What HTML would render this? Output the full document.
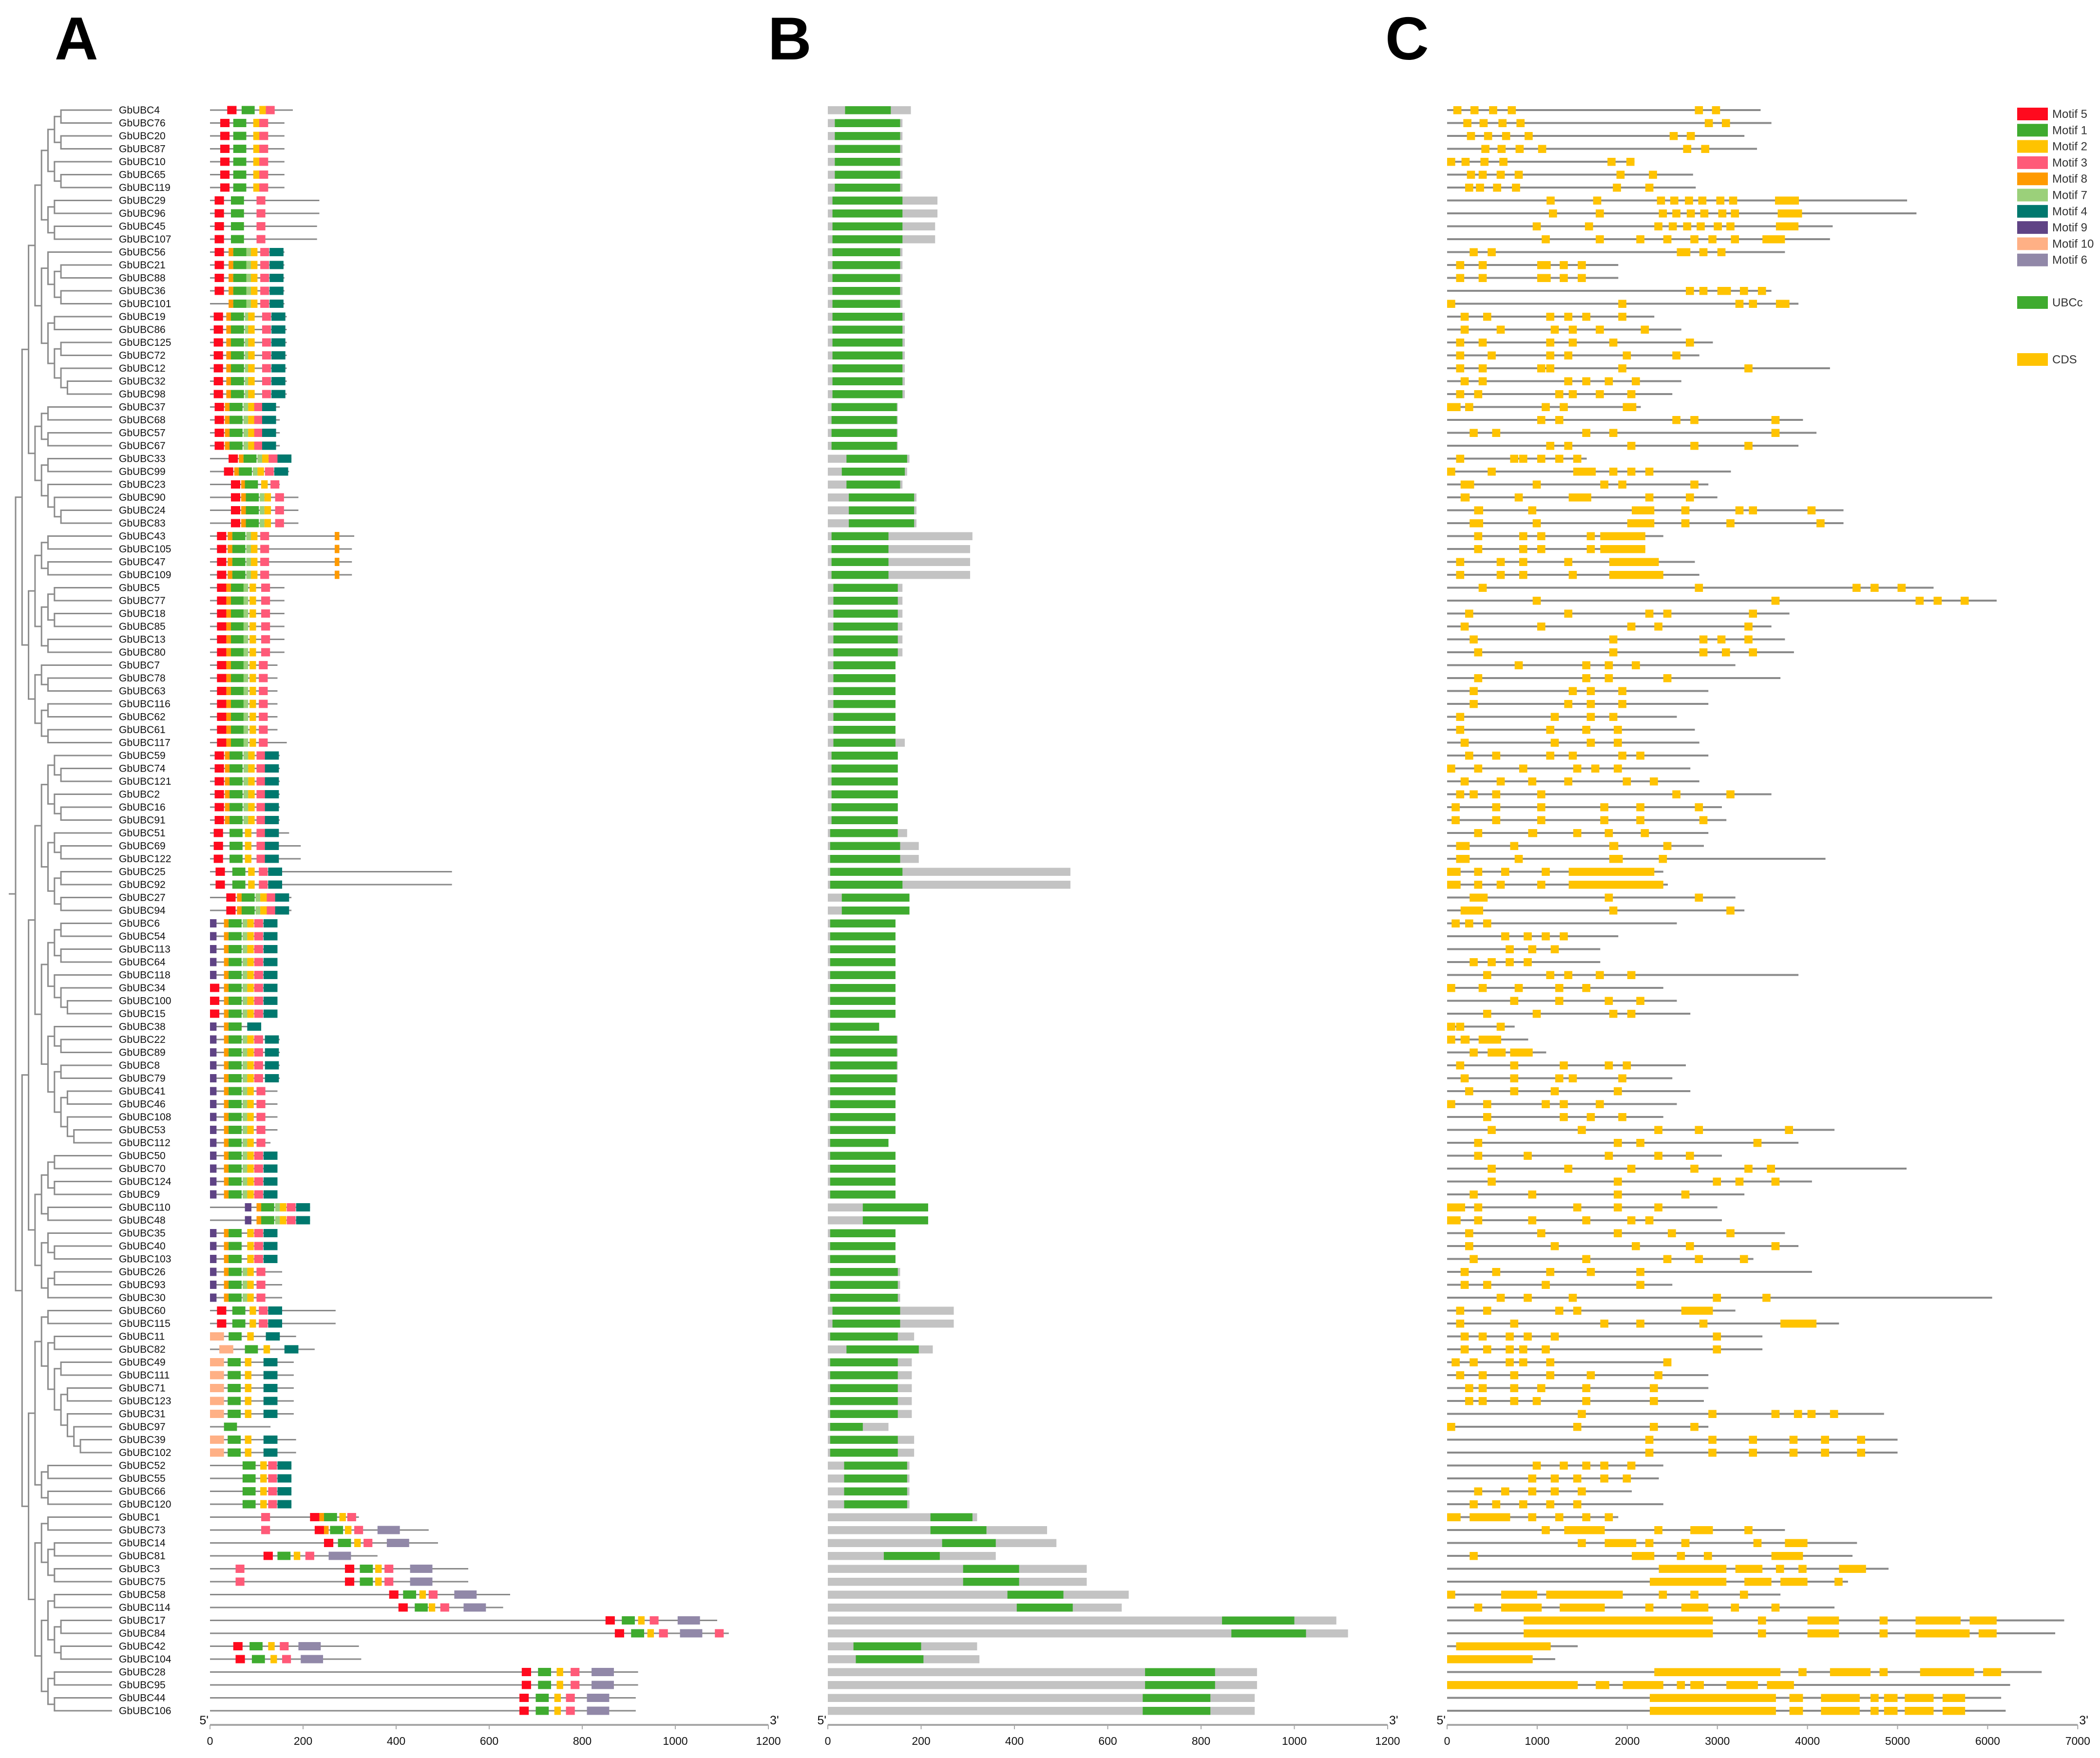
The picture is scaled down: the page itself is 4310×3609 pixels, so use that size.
<!DOCTYPE html>
<html><head><meta charset="utf-8"><style>
html,body{margin:0;padding:0;background:#fff;}
svg{display:block;}
text{font-family:"Liberation Sans",sans-serif;}
</style></head><body>
<svg id="fig" xmlns="http://www.w3.org/2000/svg" width="4310" height="3609" viewBox="0 0 4310 3609">
<rect x="0" y="0" width="4310" height="3609" fill="#fff"/>
<text x="112" y="122" font-size="124" font-weight="bold">A</text>
<text x="1576" y="122" font-size="124" font-weight="bold">B</text>
<text x="2843" y="122" font-size="124" font-weight="bold">C</text>
<g id="tree"></g>
<g id="labels"></g>
<g id="panelA"></g>
<g id="panelB"></g>
<g id="panelC"></g>
<g id="axes"></g>
<g id="legend"></g>
</svg>
<script>
// ---- data ----
const c1="((((4,76),(20,87)),(10,(65,119))),((29,96),(45,107)))";
const c2="((56,((21,88),(36,101))),((19,86),((125,72),(12,(32,98)))))";
const c3="(((37,68),(57,67)),((33,99),(23,(90,(24,83)))))";
const c4="((((43,105),(47,109)),(((5,77),(18,85)),(13,80))),((7,(78,63)),((116,62),(61,117))))";
const c5="(((59,(74,121)),(2,(16,91))),((51,(69,122)),((25,92),(27,94))))";
const c6="((((6,54),(113,64)),(118,(34,(100,15)))),((38,(22,89)),((8,79),((41,46),(108,(53,112))))))";
const c7="((((50,70),(124,9)),(110,48)),((35,(40,103)),((26,93),30)))";
const c8a="((60,115),((11,82),((49,111),((71,123),(31,(97,(39,102)))))))";
const c8b="((52,55),(66,120))";
const c9="(((1,73),((14,81),(3,75))),(((58,114),((17,84),(42,104))),((28,95),(44,106))))";
const treeNewick="(((("+c1+","+c2+"),"+c3+"),"+c4+"),((("+c5+","+c6+"),"+c7+"),(("+c8a+","+c8b+"),"+c9+")))";

// Panel A: protein length | motif:start
const motifData={
4:"178|5:37,1:68,2:106,3:120",76:"160|5:22,1:50,2:93,3:106",20:"160|5:22,1:50,2:93,3:106",87:"160|5:22,1:50,2:93,3:106",
10:"160|5:22,1:50,2:93,3:106",65:"160|5:22,1:50,2:93,3:106",119:"160|5:22,1:50,2:93,3:106",
29:"235|5:10,1:45,3:100",96:"235|5:10,1:45,3:100",45:"230|5:10,1:45,3:100",107:"230|5:10,1:45,3:100",
56:"160|5:10,8:40,1:50,7:78,2:88,3:108,4:128",21:"160|5:10,8:40,1:50,7:78,2:88,3:108,4:128",88:"160|5:10,8:40,1:50,7:78,2:88,3:108,4:128",
36:"160|5:10,8:40,1:50,7:78,2:88,3:108,4:128",101:"160|8:40,1:50,7:78,2:88,3:108,4:128",
19:"165|5:8,8:35,1:45,7:75,2:82,3:112,4:132",86:"165|5:8,8:35,1:45,7:75,2:82,3:112,4:132",125:"165|5:8,8:35,1:45,7:75,2:82,3:112,4:132",
72:"165|5:8,8:35,1:45,7:75,2:82,3:112,4:132",12:"165|5:8,8:35,1:45,7:75,2:82,3:112,4:132",32:"165|5:8,8:35,1:45,7:75,2:82,3:112,4:132",98:"165|5:8,8:35,1:45,7:75,2:82,3:112,4:132",
37:"150|5:10,8:32,1:42,7:72,2:82,3:95,4:112",68:"150|5:10,8:32,1:42,7:72,2:82,3:95,4:112",57:"150|5:10,8:32,1:42,7:72,2:82,3:95,4:112",67:"150|5:10,8:32,1:42,7:72,2:82,3:95,4:112",
33:"175|5:40,8:62,1:72,7:102,2:112,3:126,4:145",99:"170|5:30,8:52,1:62,7:92,2:102,3:118,4:138",
23:"150|5:45,8:67,1:75,2:110,3:130",90:"190|5:45,8:67,1:77,7:107,2:117,3:140",24:"190|5:45,8:67,1:77,7:107,2:117,3:140",83:"190|5:45,8:67,1:77,7:107,2:117,3:140",
43:"310|5:15,8:38,1:48,7:78,2:88,3:108,8:268",105:"305|5:15,8:38,1:48,7:78,2:88,3:108,8:268",47:"305|5:15,8:38,1:48,7:78,2:88,3:108,8:268",109:"305|5:15,8:38,1:48,7:78,2:88,3:108,8:268",
5:"160|5:15,8:35,1:45,7:72,2:85,3:110",77:"160|5:15,8:35,1:45,7:72,2:85,3:110",18:"160|5:15,8:35,1:45,7:72,2:85,3:110",
85:"160|5:15,8:35,1:45,7:72,2:85,3:110",13:"160|5:15,8:35,1:45,7:72,2:85,3:110",80:"160|5:15,8:35,1:45,7:72,2:85,3:110",
7:"145|5:15,8:35,1:45,7:72,2:85,3:105",78:"145|5:15,8:35,1:45,7:72,2:85,3:105",63:"145|5:15,8:35,1:45,7:72,2:85,3:105",
116:"145|5:15,8:35,1:45,7:72,2:85,3:105",62:"145|5:15,8:35,1:45,7:72,2:85,3:105",61:"145|5:15,8:35,1:45,7:72,2:85,3:105",117:"165|5:15,8:35,1:45,7:72,2:85,3:105",
59:"150|5:10,8:32,1:42,7:72,2:82,3:100,4:118",74:"150|5:10,8:32,1:42,7:72,2:82,3:100,4:118",121:"150|5:10,8:32,1:42,7:72,2:82,3:100,4:118",
2:"150|5:10,8:32,1:42,7:72,2:82,3:100,4:118",16:"150|5:10,8:32,1:42,7:72,2:82,3:100,4:118",91:"150|5:10,8:32,1:42,7:72,2:82,3:100,4:118",
51:"170|5:8,1:42,2:75,3:100,4:118",69:"195|5:8,1:42,2:75,3:100,4:118",122:"195|5:8,1:42,2:75,3:100,4:118",
25:"520|5:12,1:48,2:82,3:105,4:125",92:"520|5:12,1:48,2:82,3:105,4:125",
27:"175|5:35,8:58,1:68,7:98,2:108,3:122,4:140",94:"175|5:35,8:58,1:68,7:98,2:108,3:122,4:140",
6:"145|9:0,8:30,1:40,7:70,2:80,3:95,4:115",54:"145|9:0,8:30,1:40,7:70,2:80,3:95,4:115",113:"145|9:0,8:30,1:40,7:70,2:80,3:95,4:115",
64:"145|9:0,8:30,1:40,7:70,2:80,3:95,4:115",118:"145|9:0,8:30,1:40,7:70,2:80,3:95,4:115",
34:"145|5:0,8:30,1:40,7:70,2:80,3:95,4:115",100:"145|5:0,8:30,1:40,7:70,2:80,3:95,4:115",15:"145|5:0,8:30,1:40,7:70,2:80,3:95,4:115",
38:"110|9:0,8:30,1:40,4:80",
22:"150|9:0,8:30,1:40,7:70,2:80,3:95,4:118",89:"150|9:0,8:30,1:40,7:70,2:80,3:95,4:118",8:"150|9:0,8:30,1:40,7:70,2:80,3:95,4:118",79:"150|9:0,8:30,1:40,7:70,2:80,3:95,4:118",
41:"145|9:0,8:30,1:40,7:70,2:80,3:100",46:"145|9:0,8:30,1:40,7:70,2:80,3:100",108:"145|9:0,8:30,1:40,7:70,2:80,3:100",53:"145|9:0,8:30,1:40,7:70,2:80,3:100",
112:"130|9:0,8:30,1:40,7:70,2:80,3:100",
50:"145|9:0,8:30,1:40,7:70,2:80,3:95,4:115",70:"145|9:0,8:30,1:40,7:70,2:80,3:95,4:115",124:"145|9:0,8:30,1:40,7:70,2:80,3:95,4:115",9:"145|9:0,8:30,1:40,7:70,2:80,3:95,4:115",
110:"215|9:75,8:100,1:110,7:140,2:150,3:165,4:185",48:"215|9:75,8:100,1:110,7:140,2:150,3:165,4:185",
35:"145|9:0,8:30,1:40,2:80,3:95,4:115",40:"145|9:0,8:30,1:40,2:80,3:95,4:115",103:"145|9:0,8:30,1:40,2:80,3:95,4:115",
26:"155|9:0,8:30,1:40,7:70,2:80,3:100",93:"155|9:0,8:30,1:40,7:70,2:80,3:100",30:"155|9:0,8:30,1:40,7:70,2:80,3:100",
60:"270|5:15,1:48,2:85,3:105,4:125",115:"270|5:15,1:48,2:85,3:105,4:125",
11:"185|10:0,1:40,2:80,4:120",82:"225|10:20,1:75,2:115,4:160",
49:"180|10:0,1:38,2:75,4:115",111:"180|10:0,1:38,2:75,4:115",71:"180|10:0,1:38,2:75,4:115",123:"180|10:0,1:38,2:75,4:115",31:"180|10:0,1:38,2:75,4:115",
97:"130|1:30",39:"185|10:0,1:38,2:75,4:115",102:"185|10:0,1:38,2:75,4:115",
52:"175|1:70,2:108,3:125,4:145",55:"175|1:70,2:108,3:125,4:145",66:"175|1:70,2:108,3:125,4:145",120:"175|1:70,2:108,3:125,4:145",
1:"320|3:110,5:215,8:235,1:245,2:278,3:295",73:"470|3:110,5:225,8:245,1:258,2:290,3:310,6:360",
14:"490|5:245,1:275,2:310,3:330,6:380",81:"360|5:115,1:145,2:180,3:205,6:255",
3:"555|3:55,5:290,1:322,2:355,3:375,6:430",75:"555|3:55,5:290,1:322,2:355,3:375,6:430",
58:"645|5:385,1:415,2:450,3:470,6:525",114:"630|5:405,1:440,2:470,3:495,6:545",
17:"1090|5:850,1:885,2:920,3:945,6:1005",84:"1115|5:870,1:905,2:940,3:965,6:1010,3:1085",
42:"320|5:50,1:85,2:125,3:150,6:190",104:"325|5:55,1:90,2:130,3:155,6:195",
28:"920|5:670,1:705,2:745,3:775,6:820",95:"920|5:670,1:705,2:745,3:775,6:820",
44:"915|5:665,1:700,2:740,3:765,6:810",106:"915|5:665,1:700,2:740,3:765,6:810"
};
// Panel B: protein length | UBCc start-end
const domainData={
4:"178|37-135",76:"160|15-155",20:"160|15-155",87:"160|15-155",10:"160|15-155",65:"160|15-155",119:"160|15-155",
29:"235|10-160",96:"235|10-160",45:"230|10-160",107:"230|10-160",
56:"160|10-155",21:"160|10-155",88:"160|10-155",36:"160|10-155",101:"160|10-155",
19:"165|10-160",86:"165|10-160",125:"165|10-160",72:"165|10-160",12:"165|10-160",32:"165|10-160",98:"165|10-160",
37:"150|8-148",68:"150|8-148",57:"150|8-148",67:"150|8-148",33:"175|40-170",99:"170|30-165",
23:"160|40-155",90:"190|45-185",24:"190|45-185",83:"190|45-185",
43:"310|8-130",105:"305|8-130",47:"305|8-130",109:"305|8-130",
5:"160|12-150",77:"160|12-150",18:"160|12-150",85:"160|12-150",13:"160|12-150",80:"160|12-150",
7:"145|12-145",78:"145|12-145",63:"145|12-145",116:"145|12-145",62:"145|12-145",61:"145|12-145",117:"165|12-145",
59:"150|8-150",74:"150|8-150",121:"150|8-150",2:"150|8-150",16:"150|8-150",91:"150|8-150",
51:"170|5-150",69:"195|5-155",122:"195|5-155",25:"520|5-160",92:"520|5-160",27:"175|30-175",94:"175|30-175",
6:"145|5-145",54:"145|5-145",113:"145|5-145",64:"145|5-145",118:"145|5-145",34:"145|5-145",100:"145|5-145",15:"145|5-145",
38:"110|5-110",22:"150|5-148",89:"150|5-148",8:"150|5-148",79:"150|5-148",41:"145|5-145",46:"145|5-145",108:"145|5-145",53:"145|5-145",
112:"130|5-130",50:"145|5-145",70:"145|5-145",124:"145|5-145",9:"145|5-145",110:"215|75-215",48:"215|75-215",
35:"145|5-145",40:"145|5-145",103:"145|5-145",26:"155|5-150",93:"155|5-150",30:"155|5-150",
60:"270|10-155",115:"270|10-155",11:"185|5-150",82:"225|40-195",
49:"180|5-150",111:"180|5-150",71:"180|5-150",123:"180|5-150",31:"180|5-150",97:"130|5-75",39:"185|5-150",102:"185|5-150",
52:"175|35-170",55:"175|35-170",66:"175|35-170",120:"175|35-170",
1:"320|220-310",73:"470|220-340",14:"490|245-360",81:"360|120-240",3:"555|290-410",75:"555|290-410",
58:"645|385-505",114:"630|405-525",17:"1090|845-1000",84:"1115|865-1025",42:"320|55-200",104:"325|60-205",
28:"920|680-830",95:"920|680-830",44:"915|675-820",106:"915|675-820"
};
// Panel C: gene length | exons (start or start-end, bp)
const exonData={
4:"3480|69,259,466,673,2750,2940",76:"3600|180,360,570,770,2860,3050",20:"3300|220,410,610,860,2470,2660",87:"3440|380,560,760,1010,2620,2820",
10:"2080|0,160,370,580,1780,1990",65:"2730|220,350,550,750,1880,2240",119:"2760|200,320,510,720,1840,2200",
29:"5106|1104,1621,2329,2477,2640,2788,2988,3130,3640-3905",96:"5210|1130,1650,2350,2500,2660,2810,3010,3150,3670-3940",
45:"4280|950,1530,2300,2460,2620,2770,2960,3100,3650-3900",107:"4250|1050,1650,2100,2400,2700,2900,3150,3500-3750",
56:"3750|250,450,2550-2700,2800,3000",21:"1900|100,350,1000-1150,1250,1450",88:"1900|100,350,1000-1150,1250,1450",
36:"3600|2650,2800,3000-3150,3250,3450",101:"3900|0,1900,3200,3350,3650-3800",
19:"2300|150,400,1100,1300,1500,1900",86:"2600|150,550,1150,1350,1650,2150",125:"2950|100,350,1100,1350,1800,2650",
72:"2800|100,450,1100,1300,1950,2500",12:"4250|100,350,1000,1100,1900,3300",32:"2600|150,350,1300,1500,1750,2050",98:"2500|100,300,1200,1350,1650,2000",
37:"2150|0-150,200,1050,1250,1950-2100",68:"3950|1000,1200,2500,2700,3600",57:"4100|250,500,1500,1800,3600",67:"3900|1100,1300,2000,2700,3300",
33:"1550|100,700,800,1000,1200,1400",99:"3150|0,450,1400-1650,1800,2000,2200",23:"2900|150-300,950,1700,1900,2700",
90:"3000|150-250,750,1350-1600,2200,2650",24:"4400|300-400,900,2050-2300,2600,3200,3350,4000",83:"4400|250-400,950,2000-2300,2600,3100,4100",
43:"2400|300,800,1000,1550,1700-2200",105:"2200|300,800,1000,1550,1700-2200",47:"2750|100,550,800,1300,1800-2350",109:"2800|100,550,800,1350,1800-2400",
5:"5400|350,2750,4500,4700,5000",77:"6100|950,3600,5200,5400,5700",18:"3800|200,1300,2200,2400,3350",85:"3600|150,1000,2000,2300,3300",
13:"3750|250,1800,2800,3000,3300",80:"3850|300,1800,2800,3050,3350",
7:"3200|750,1500,1750,2050",78:"3700|300,1500,1750,2400",63:"2900|250,1350,1550,1900",116:"2900|250,1300,1550,1900",
62:"2550|100,1150,1550,1800",61:"2750|100,1100,1500,1850",117:"2800|150,1150,1550,1850",
59:"2900|200,500,1100,1350,1900,2100",74:"2700|0,300,800,1400,1600,1850",121:"2800|150,550,900,1300,1950,2250",
2:"3600|100,250,500,1000,2500,3100",16:"3050|50,500,1000,1700,2100,2750",91:"3100|50,500,1000,1700,2100,2800",
51:"2900|300,900-1000,1400,1750,2150",69:"2850|100-250,700,1800-1900,2400",122:"4200|100-250,750,1800-1950,2350",
25:"2400|0-150,300,600,1050,1350-2300",92:"2450|0-150,300,550,1000,1350-2400",
27:"3200|250-450,1750,2750",94:"3300|150-400,1800,3100",
6:"2550|50,200,400",54:"1900|600,850,1050,1250",113:"1700|650,900,1150",64:"1700|250,450,650,850",
118:"3900|400,1100,1300,1650,2000",34:"2400|0,350,750,1200,1500",100:"2550|700,1200,1750,2100",15:"2700|400,950,1800,2000",
38:"750|0,100,550",22:"900|0,150-250,350-600",89:"1100|250,450-650,700-950",8:"2650|100,700,1250,1750,1950",
79:"2500|150,700,1200,1350,1900",41:"2700|200,700,1150,1850",46:"2550|0,400,1050,1250,1650",108:"2400|400,1250,1550,1900",
53:"4300|450,1450,2300,2750,3750",112:"3900|300,1850,2100,3400",50:"3050|300,850,1750,2300,2650",
70:"5100|450,1300,2000,2700,3300,3550",124:"4050|450,1850,2950,3200,3600",9:"3300|250,900,1850,2600",
110:"3000|0-200,300,1400,1850,2300",48:"3050|0-150,300,900,1500,2000,2200",
35:"3750|200,1000,1850,2450,3100",40:"3900|200,1150,2050,2650,3600",103:"3400|250,1500,2400,2750,3250",
26:"4050|150,500,1100,1550,2100",93:"2500|150,400,1050,2100",30:"6050|550,850,1350,2950,3500",
60:"3200|100,400,1200,1400,2600-2950",115:"4350|100,700,1700,2100,2800,3700-4100",
11:"3500|150,350,650,850,1150,2950",82:"3500|150,400,650,800,1050,2950",49:"2450|50,250,650,800,1100,2400",
111:"2900|100,350,700,1100,1550,2300",71:"2900|200,350,700,1000,1500,2250",123:"2850|200,350,700,950,1500,2250",
31:"4850|1450,2900,3600,3850,4000,4250",97:"2900|0,1400,2250,2700",
39:"5000|2200,2900,3350,3800,4150,4550",102:"5000|2200,2900,3350,3800,4150,4550",
52:"2400|950,1250,1500,1700,2000",55:"2350|900,1150,1400,1700,1950",66:"2050|300,600,900,1150,1450",120:"2400|250,500,800,1100,1400",
1:"1900|0-150,250-700,900,1200,1500,1750",73:"3750|1050,1300-1750,2300,2700-2950,3300",
14:"4550|1450,1750-2100,2200,2600,3400,3750-4000",81:"4500|250,2050-2300,2550,2850,3600-3950",
3:"4900|2350-3100,3200-3500,3650,3900,4350-4650",75:"4450|2250-3100,3300-3600,3700-4000,4300",
58:"3700|0,600-1000,1100-1950,2350,2700,3250",114:"4300|300,600-1050,1250-1750,2200,2600-2900,3150,3600",
17:"6850|850-2950,3450,4000-4350,4800,5200-5700,5800-6100",84:"6750|850-2950,3450,4000-4350,4800,5200-5800,5900-6100",
42:"1450|100-1150",104:"1200|0-950",28:"6600|2300-3700,3900,4250-4700,4800,5250-5850,5950-6150",
95:"6250|0-1450,1650-1800,1950-2400,2550,2700-2850,3100-3450,3550-3850",
44:"6150|2250-3650,3800-3950,4150-4580,4700,4850-5000,5080-5400,5500-5750",
106:"6200|2250-3650,3800-3950,4150-4580,4700,4850-5000,5080-5400,5500-5750"
};
const motifNames=["Motif 5","Motif 1","Motif 2","Motif 3","Motif 8","Motif 7","Motif 4","Motif 9","Motif 10","Motif 6"];
const motifIds=[5,1,2,3,8,7,4,9,10,6];
const axisTicksProt=[0,200,400,600,800,1000,1200];
const axisTicksGene=[0,1000,2000,3000,4000,5000,6000,7000];

// ---- styles / scales ----
const COL={5:"#ff0a1e",1:"#3fab2f",2:"#ffc300",3:"#ff5a78",8:"#ff9a00",7:"#9bd07a",4:"#00786e",9:"#5f4385",10:"#ffb085",6:"#9188a8"};
const MW={5:20,1:28,2:14,3:19,8:10,7:10,4:30,9:14,10:30,6:48};
const NS="http://www.w3.org/2000/svg";
const xA=u=>431+u*0.955, xB=u=>1699+u*0.9575, xC=b=>2970+b*0.1849;
const rowY=i=>226+i*26.5;
function mk(tag,attrs,parent){const e=document.createElementNS(NS,tag);for(const k in attrs)e.setAttribute(k,attrs[k]);parent.appendChild(e);return e;}

// ---- tree ----
let pos=0;const s=treeNewick;
function parse(depth){
  if(s[pos]==="("){pos++;const node={ch:[],d:depth};
    while(true){node.ch.push(parse(depth+1));if(s[pos]===","){pos++;continue;}if(s[pos]===")"){pos++;break;}break;}
    return node;}
  let n="";while(pos<s.length&&/[0-9]/.test(s[pos]))n+=s[pos++];return {name:n,d:depth};
}
const root=parse(0);
const leaves=[];
function collect(n){if(n.ch)n.ch.forEach(collect);else{n.i=leaves.length;leaves.push(n);}}
collect(root);
const treeG=document.getElementById("tree");
const TX=d=>32+d*13.3, TIP=230;
function layout(n){if(!n.ch){n.y=rowY(n.i);n.x=TIP;return;}n.ch.forEach(layout);n.x=TX(n.d);n.y=(n.ch[0].y+n.ch[n.ch.length-1].y)/2;}
layout(root);
function drawTree(n){
  if(!n.ch)return;
  const v=mk("line",{x1:n.x,y1:n.ch[0].y,x2:n.x,y2:n.ch[n.ch.length-1].y,stroke:"#8c8c8c","stroke-width":3},treeG);
  
  
  n.ch.forEach(c=>{
    const h=mk("line",{x1:n.x-1.5,y1:c.y,x2:c.ch?c.x:TIP,y2:c.y,stroke:"#8c8c8c","stroke-width":3},treeG);
    
    
    drawTree(c);});
}
drawTree(root);
const stub=mk("line",{x1:18,y1:root.y,x2:root.x,y2:root.y,stroke:"#8c8c8c","stroke-width":3},treeG);



// ---- rows ----
const labG=document.getElementById("labels"),gA=document.getElementById("panelA"),gB=document.getElementById("panelB"),gC=document.getElementById("panelC");
leaves.forEach(L=>{
  const id=L.name,y=rowY(L.i);
  const t=mk("text",{x:244,y:y+7,"font-size":21,"font-family":"Liberation Serif, serif",fill:"#111"},labG);
  t.textContent="GbUBC"+id;
  
  
  // A
  const [la,ma]=motifData[id].split("|");
  const ln=mk("rect",{x:xA(0),y:y-1.5,width:xA(+la)-xA(0),height:3,fill:"#8a8a8a"},gA);
  
  
  ma.split(",").forEach(p=>{const [m,st]=p.split(":").map(Number);
    const r=mk("rect",{x:xA(st),y:y-8.5,width:MW[m]*0.955,height:17,fill:COL[m]},gA);
    
    });
  // B
  const [lb,db]=domainData[id].split("|");const [ds,de]=db.split("-").map(Number);
  const gb=mk("rect",{x:xB(0),y:y-8,width:xB(+lb)-xB(0),height:16.5,fill:"#c3c3c3"},gB);
  
  
  const ub=mk("rect",{x:xB(ds),y:y-8,width:xB(de)-xB(ds),height:16.5,fill:"#3fab2f"},gB);
  
  
  // C
  const [lc,ec]=exonData[id].split("|");
  const gl=mk("rect",{x:xC(0),y:y-2,width:xC(+lc)-xC(0),height:4,fill:"#8a8a8a"},gC);
  
  
  ec.split(",").forEach(p=>{const q=p.split("-").map(Number);const a=q[0],b=q.length>1?q[1]:q[0]+90;
    const r=mk("rect",{x:xC(a),y:y-8,width:xC(b)-xC(a),height:16.5,fill:"#ffc300"},gC);
    
    });
});

// ---- axes ----
const axG=document.getElementById("axes");
function axis(x0,x1,ticks,sc,nm){
  const l=mk("rect",{x:x0,y:3539,width:x1-x0,height:4,fill:"#a8a8a8"},axG);
  
  
  ticks.forEach(v=>{
    const tk=mk("rect",{x:sc(v)-1,y:3541,width:2,height:9,fill:"#a8a8a8"},axG);
    
    
    const tl=mk("text",{x:sc(v),y:3582,"font-size":23,"text-anchor":"middle",fill:"#111"},axG);
    tl.textContent=v;
    
    });
  const a=mk("text",{x:x0-3,y:3540,"font-size":25,"text-anchor":"end",fill:"#111"},axG);a.textContent="5'";
  
  
  const b=mk("text",{x:x1+3,y:3540,"font-size":25,fill:"#111"},axG);b.textContent="3'";
  
  
}
axis(xA(0),xA(1200),axisTicksProt,xA,"motif");
axis(xB(0),xB(1200),axisTicksProt,xB,"domain");
axis(xC(0),xC(7000),axisTicksGene,xC,"gene");

// ---- legend ----
const lgG=document.getElementById("legend");
function lg(y,col,txt){
  const r=mk("rect",{x:4140,y:y,width:63,height:26,fill:col},lgG);
  
  
  const t=mk("text",{x:4212,y:y+21,"font-size":24,fill:"#333"},lgG);t.textContent=txt;
  
  
}
motifIds.forEach((m,i)=>lg(221+i*33.3,COL[m],motifNames[i]));
lg(608,"#3fab2f","UBCc");
lg(725,"#ffc300","CDS");
</script>
</body></html>
